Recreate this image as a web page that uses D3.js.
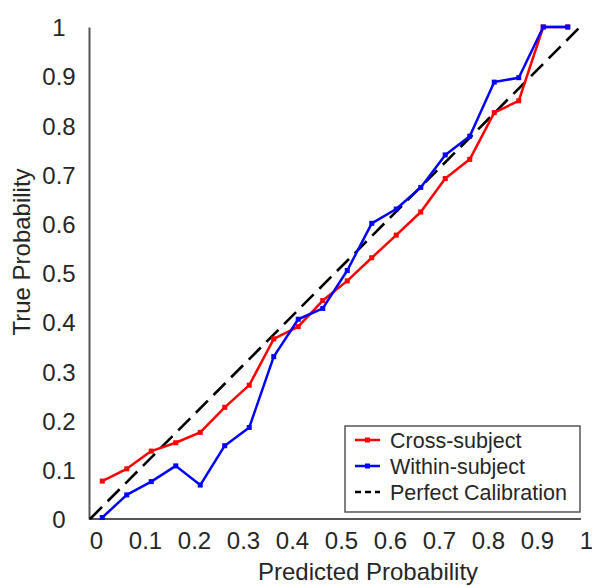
<!DOCTYPE html>
<html>
<head>
<meta charset="utf-8">
<script src="https://cdn.jsdelivr.net/npm/d3@7"></script>
<style>
  body { margin: 0; background: #fff; }
  svg text { font-family: "Liberation Sans", Arial, sans-serif; fill: #262626; }
</style>
</head>
<body>
<svg id="chart" width="592" height="586"></svg>
<script>
// --- Data ---
const predicted = [0.025, 0.075, 0.125, 0.175, 0.225, 0.275, 0.325, 0.375, 0.425, 0.475,
                   0.525, 0.575, 0.625, 0.675, 0.725, 0.775, 0.825, 0.875, 0.925, 0.975];
const crossSubject = [0.077, 0.102, 0.138, 0.155, 0.176, 0.227, 0.272, 0.366, 0.391, 0.444,
                      0.484, 0.531, 0.577, 0.624, 0.692, 0.731, 0.826, 0.850, 1.0, 1.0];
const withinSubject = [0.003, 0.049, 0.076, 0.108, 0.069, 0.149, 0.186, 0.330, 0.406, 0.428,
                       0.505, 0.601, 0.630, 0.674, 0.740, 0.778, 0.888, 0.897, 1.0, 1.0];
const tickValues = [0, 0.1, 0.2, 0.3, 0.4, 0.5, 0.6, 0.7, 0.8, 0.9, 1];
const legendNames = ["Cross-subject", "Within-subject", "Perfect Calibration"];

const svg = d3.select("#chart");
const margin = { top: 27, right: 12, bottom: 67, left: 90 };
const width = 580 - margin.left,
      height = 519 - margin.top;

const x = d3.scaleLinear().domain([0, 1]).range([margin.left, margin.left + width]);
const y = d3.scaleLinear().domain([0, 1]).range([margin.top + height, margin.top]);

const fmt = d => d === 0 ? "0" : d === 1 ? "1" : d3.format(".1f")(d);

// axes
const gx = svg.append("g")
  .attr("transform", `translate(0,${y(0)})`)
  .call(d3.axisBottom(x).tickValues(tickValues).tickFormat(fmt).tickSize(0).tickPadding(0));
gx.select(".domain").attr("stroke", "#555").attr("stroke-width", 2).attr("d", `M${x(0) - 1},0H${x(1) + 1}`);
gx.selectAll("text")
  .attr("font-size", 24)
  .attr("dx", 6)
  .attr("dy", 0)
  .attr("y", 30);

const gy = svg.append("g")
  .attr("transform", `translate(${x(0) - 1},0)`)
  .call(d3.axisLeft(y).tickValues(tickValues).tickFormat(fmt).tickSize(0));
gy.select(".domain").attr("stroke", "#555").attr("stroke-width", 2);
gy.selectAll("text")
  .attr("font-size", 24)
  .attr("text-anchor", "middle")
  .attr("x", -30)
  .attr("dy", "0.36em");
svg.selectAll(".tick line").remove();

// axis titles
svg.append("text")
  .attr("x", 368)
  .attr("y", 580)
  .attr("text-anchor", "middle")
  .attr("font-size", 24)
  .text("Predicted Probability");
svg.append("text")
  .attr("transform", `translate(30,252) rotate(-90)`)
  .attr("text-anchor", "middle")
  .attr("font-size", 24)
  .text("True Probability");

// perfect calibration
svg.append("line")
  .attr("x1", x(0)).attr("y1", y(0))
  .attr("x2", x(1)).attr("y2", y(1))
  .attr("stroke", "#000")
  .attr("stroke-width", 2.6)
  .attr("stroke-dasharray", "17,8");

const line = d3.line().x(d => x(d[0])).y(d => y(d[1]));
const series = [
  { name: legendNames[0], color: "#ff0000", values: crossSubject },
  { name: legendNames[1], color: "#0000ff", values: withinSubject }
];

series.forEach(s => {
  const pts = predicted.map((p, i) => [p, s.values[i]]);
  svg.append("path")
    .datum(pts)
    .attr("fill", "none")
    .attr("stroke", s.color)
    .attr("stroke-width", 2.5)
    .attr("stroke-linejoin", "round")
    .attr("d", line);
  svg.append("g").selectAll("rect")
    .data(pts)
    .join("rect")
    .attr("x", d => x(d[0]) - 2.5)
    .attr("y", d => y(d[1]) - 2.5)
    .attr("width", 5)
    .attr("height", 5)
    .attr("fill", s.color);
});

// legend
const lg = svg.append("g").attr("transform", "translate(345,426)");
lg.append("rect")
  .attr("width", 235).attr("height", 86)
  .attr("fill", "#fff")
  .attr("stroke", "#555").attr("stroke-width", 1.5);
legendNames.forEach((name, i) => {
  const cy = 14 + i * 26;
  if (i < 2) {
    lg.append("line")
      .attr("x1", 10).attr("x2", 35).attr("y1", cy).attr("y2", cy)
      .attr("stroke", series[i].color).attr("stroke-width", 2.5);
    lg.append("rect")
      .attr("x", 20).attr("y", cy - 2.5).attr("width", 5).attr("height", 5)
      .attr("fill", series[i].color);
  } else {
    lg.append("line")
      .attr("x1", 10).attr("x2", 35).attr("y1", cy).attr("y2", cy)
      .attr("stroke", "#000").attr("stroke-width", 2.6)
      .attr("stroke-dasharray", "6,4");
  }
  lg.append("text")
    .attr("x", 45).attr("y", cy)
    .attr("dy", "0.36em")
    .attr("font-size", 21.5)
    .text(name);
});
</script>
</body>
</html>
